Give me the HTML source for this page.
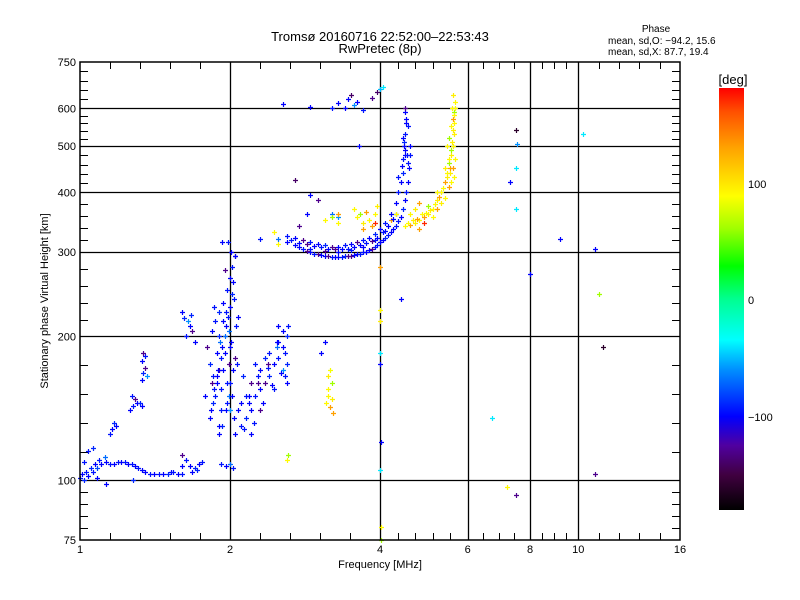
<!DOCTYPE html>
<html><head><meta charset="utf-8">
<style>
html,body{margin:0;padding:0;background:#fff;}
svg{display:block;font-family:"Liberation Sans",sans-serif;}
</style></head>
<body>
<svg id="chart" width="800" height="600" viewBox="0 0 800 600" xmlns="http://www.w3.org/2000/svg">
  <rect x="0" y="0" width="800" height="600" fill="#fff"/>
  <text x="380" y="41" font-size="13" text-anchor="middle">Tromsø 20160716 22:52:00–22:53:43</text>
  <text x="380" y="53" font-size="13" text-anchor="middle">RwPretec (8p)</text>
  <g font-size="10">
    <text x="656" y="32" text-anchor="middle">Phase</text>
    <text x="608" y="44">mean, sd,O: −94.2, 15.6</text>
    <text x="608" y="55">mean, sd,X:  87.7, 19.4</text>
  </g>
  <text x="380" y="568" font-size="11" text-anchor="middle">Frequency [MHz]</text>
  <text x="0" y="0" font-size="11" text-anchor="middle" transform="translate(48,301) rotate(-90)">Stationary phase Virtual Height [km]</text>
  <g id="grid"></g>
  <g id="ticks"></g>
  <g id="labels" font-size="11"></g>
  <g id="points"></g>
  <rect x="80" y="62" width="600" height="478" fill="none" stroke="#000" stroke-width="1.5"/>
  <defs>
    <linearGradient id="cbg" x1="0" y1="1" x2="0" y2="0">
      <stop offset="0" stop-color="#000000"/>
      <stop offset="0.083" stop-color="#400040"/>
      <stop offset="0.153" stop-color="#5000a0"/>
      <stop offset="0.222" stop-color="#0000ff"/>
      <stop offset="0.333" stop-color="#0090ff"/>
      <stop offset="0.403" stop-color="#00ffff"/>
      <stop offset="0.5" stop-color="#00ff90"/>
      <stop offset="0.578" stop-color="#00ff00"/>
      <stop offset="0.667" stop-color="#a0ff00"/>
      <stop offset="0.744" stop-color="#ffff00"/>
      <stop offset="0.861" stop-color="#ffa000"/>
      <stop offset="0.944" stop-color="#ff5000"/>
      <stop offset="1" stop-color="#ff0000"/>
    </linearGradient>
  </defs>
  <rect x="719" y="88" width="25" height="422" fill="url(#cbg)"/>
  <text x="733" y="84" font-size="13" text-anchor="middle">[deg]</text>
  <g font-size="11">
    <text x="748" y="188">100</text>
    <text x="748" y="304">0</text>
    <text x="748" y="421">−100</text>
  </g>
</svg>
<script>
// ----- axes -----
const xLabelVals = [1, 2, 4, 6, 8, 10, 16];
const xGridVals = [2, 4, 6, 8, 10];
const yLabelVals = [75, 100, 200, 300, 400, 500, 600, 750];
const yGridVals = [100, 200, 300, 400, 500, 600];

// ----- data (frequency MHz, height km, phase deg) -----
const freqs = [
1.0,1.01,1.02,1.03,1.04,1.05,1.06,1.07,1.08,1.09,1.10,1.12,1.13,1.15,1.17,1.19,1.21,1.23,1.25,1.27,1.29,1.31,1.33,1.35,1.38,1.41,1.44,1.47,1.50,1.52,1.54,1.57,1.60,
1.04,1.06,1.02,1.08,1.13,1.28,1.6,1.63,1.66,1.7,1.73,1.76,1.6,1.68,1.72,1.92,1.96,2.0,2.03,
1.15,1.16,1.17,1.18,
1.26,1.28,1.30,1.32,1.33,1.29,1.27,
1.33,1.34,1.35,1.33,1.35,1.36,1.34,
1.6,1.62,1.65,1.66,1.68,1.63,1.7,1.67,
1.82,1.85,1.87,1.88,1.9,1.92,1.93,1.95,1.96,1.98,2.0,2.02,2.03,2.02,2.01,2.05,1.98,1.9,1.93,1.96,1.99,2.0,2.03,2.05,1.85,1.88,1.9,1.94,1.97,2.0,2.04,1.92,1.8,1.84,1.87,1.9,1.94,1.97,2.0,1.95,1.86,1.78,1.82,2.06,2.08,
2.05,2.1,2.15,2.2,2.25,2.3,2.35,2.4,2.45,2.5,2.55,2.6,2.62,2.1,2.15,2.2,2.3,2.35,2.4,2.5,2.55,2.6,2.45,2.3,2.2,2.12,2.25,2.5,2.55,2.58,2.6,
2.6,2.62,
3.12,3.15,3.2,3.18,3.14,3.2,3.15,3.22,3.17,3.05,3.1,
2.7,2.8,2.9,3.0,3.1,3.2,3.3,3.4,3.5,3.6,3.7,3.8,3.9,4.0,4.1,4.2,4.3,4.4,4.45,4.5,4.52,4.55,4.57,4.6,4.6,
2.5,2.6,2.7,2.8,2.9,3.0,3.1,3.2,3.3,3.4,3.5,3.6,3.7,3.8,3.9,4.0,4.1,4.2,4.3,4.35,4.4,4.45,
2.6,2.9,3.1,3.3,3.5,3.7,3.9,4.1,4.3,
2.75,2.85,2.9,3.0,3.2,3.3,2.3,2.45,2.5,
4.42,4.45,4.48,4.46,4.5,4.35,4.5,4.48,4.52,4.55,
2.55,2.9,3.2,3.3,3.45,3.5,3.55,3.4,3.7,3.85,3.95,4.05,3.6,
2.7,3.63,4.0,
3.55,3.6,3.65,3.7,3.75,3.8,3.85,3.9,3.95,3.9,3.7,3.3,3.1,3.2,3.3,
4.5,4.6,4.7,4.8,4.9,5.0,5.1,5.2,5.3,5.4,5.45,5.5,5.55,5.6,5.62,5.63,5.64,5.65,5.6,5.55,5.5,5.4,5.3,5.2,5.1,4.9,4.8,4.6,4.7,4.8,5.0,5.2,5.45,5.5,5.55,5.6,5.58,5.52,5.6,5.65,5.62,5.4,4.2,4.3,
4.0,4.0,4.0,4.0,4.0,4.02,4.02,4.0,4.02,4.4,
7.5,7.55,7.5,7.3,7.5,10.2,10.8,9.2,8.0,11,11.2,6.7,7.2,7.5,10.8,
1.93,2.05,
// extra density
2.75,2.85,2.95,3.05,3.15,3.25,3.35,3.45,3.55,3.65,3.75,3.85,3.95,4.05,4.15,4.25,4.35,
2.65,2.75,2.85,2.95,3.05,3.15,3.25,3.35,3.45,3.55,3.65,3.75,3.85,3.95,4.05,4.15,4.25,
1.83,1.86,1.89,1.91,1.94,1.97,1.99,2.01,2.04,1.88,1.92,1.95,1.99,2.02,2.07,1.84,1.9,1.96,2.0,
2.08,2.13,2.18,2.23,2.28,2.33,2.38,2.43,2.48,2.53,2.58,2.18,2.28,2.38,2.48,
4.55,4.65,4.75,4.85,4.95,5.05,5.15,5.25,5.35,5.45,5.5,5.55,5.6,5.62,5.65,5.58,5.53,
4.47,4.49,4.51,4.53,4.44,4.56
];
const heights = [
101,103,100,104,102,106,104,108,106,110,108,112,109,108,108,109,109,109,108,108,107,106,105,104,103,103,103,103,103,104,104,103,103,
115,117,109,101,98,100,107,110,107,106,108,109,113,104,105,108,107,108,106,
125,128,132,130,
140,143,145,145,143,148,150,
162,168,172,178,182,165,185,
225,218,215,210,205,200,195,222,
135,145,150,160,170,180,190,200,210,220,230,245,260,280,300,295,315,125,130,140,150,160,170,180,165,185,200,170,160,140,135,155,190,205,215,225,235,250,265,275,230,150,175,210,220,
125,130,135,140,150,155,160,165,175,180,190,200,210,145,150,160,170,180,185,195,170,160,155,140,125,165,175,210,205,165,175,
110,113,
145,150,148,142,155,160,165,138,170,185,195,
310,305,300,297,295,293,293,294,295,297,300,303,308,315,322,330,340,355,370,385,400,420,450,480,500,
320,325,322,318,315,312,310,308,308,310,312,315,318,322,328,335,345,360,380,400,420,440,
315,305,302,300,303,308,318,333,360,
340,360,395,385,360,355,320,330,312,
455,470,490,510,480,430,590,600,570,550,
612,605,600,615,628,640,610,600,595,630,650,665,620,
425,500,660,
370,355,360,345,365,350,340,360,375,345,335,345,350,355,360,
340,342,345,350,355,360,370,385,400,420,440,460,480,500,530,560,590,620,640,420,410,390,380,370,355,345,335,360,370,380,375,400,500,520,550,570,600,440,450,470,430,450,350,360,
280,227,215,185,175,80,75,105,120,240,
540,505,450,420,370,530,305,320,270,245,190,135,97,93,103,
315,295,
307,302,298,296,294,293,293,294,296,298,301,305,311,318,326,335,348,
318,314,312,309,307,305,304,304,305,307,310,313,317,322,330,340,352,
140,155,170,195,215,145,175,195,240,165,140,185,205,150,175,160,130,225,190,
140,128,145,132,160,145,172,158,190,168,185,150,165,175,195,
345,350,352,360,362,368,378,392,408,430,470,490,540,580,600,510,450,
500,530,560,480,520,460
];
const phases = [
-95,-100,-90,-95,-100,-90,-95,-100,-80,-95,-100,-70,-100,-95,-100,-95,-100,-95,-100,-95,-100,-95,-100,-100,-95,-100,-95,-100,-90,-100,-95,-100,-95,
-95,-90,-95,-100,-100,-90,-100,-95,-100,-90,-100,-95,-130,-100,-90,-95,-100,-70,-95,
-95,-100,-90,-100,
-100,-95,-100,-90,-100,-130,-95,
-100,-90,-130,-100,-95,-60,-130,
-100,-90,-60,-100,-130,-95,-100,-90,
-100,-90,-95,-100,-130,-95,-100,-70,-100,-95,-100,-90,-100,-95,-100,-130,-95,-100,-90,-100,-70,-95,-100,-130,-95,-100,-90,-100,-95,-60,-100,-95,-130,-100,-95,-90,-100,-95,-100,-130,-95,-100,-90,-95,-100,
-100,-95,-90,-100,-95,-100,-130,-90,-100,-95,-100,-90,-95,-100,-95,-130,-100,-90,-95,-100,-60,-100,-95,-130,-100,-90,-95,-100,-100,-95,-90,
90,60,
90,90,95,130,90,60,95,130,85,-100,-100,
-100,-95,-100,-130,-100,-95,-100,-90,-130,-100,-95,-100,-95,-100,-90,-100,-95,-100,-90,-100,-95,-100,-100,-95,-100,
-70,-95,-100,-130,-95,-100,-90,-130,-100,-95,-100,-130,-95,-100,-90,-100,-95,-100,-100,-95,-100,-90,
-100,-95,-130,-100,-95,-100,-95,-100,-95,
-130,-100,-100,-130,-70,-60,-95,90,90,
-100,-95,-100,-90,-100,-95,-100,-130,-100,-95,
-100,-100,-95,-100,-100,-140,-60,-100,-95,-130,-140,-40,-100,
-140,-100,-50,
90,90,60,95,130,90,130,90,95,170,130,90,90,60,130,
90,130,95,90,130,95,90,95,90,130,90,60,95,90,95,90,60,90,95,90,130,90,95,130,90,170,130,90,95,130,60,90,90,60,90,130,90,95,130,90,90,95,130,90,
130,90,95,-40,-100,90,60,-40,-100,-100,
-160,-60,-40,-100,-40,-40,-100,-100,-100,60,-160,-40,90,-130,-130,
-100,-100,
-100,-130,-95,-100,-130,-100,-95,-130,-100,-95,-100,-130,-95,-100,-95,-100,-95,
-95,-100,-130,-100,-95,-100,-130,-100,-95,-100,-100,-95,-130,-100,-95,-100,-100,
-100,-95,-100,-70,-100,-95,-130,-100,-95,-100,-95,-100,-70,-100,-95,-130,-100,-95,-100,
-100,-95,-100,-95,-130,-100,-95,-100,-70,-100,-95,-100,-95,-130,-100,
90,95,130,90,90,95,90,130,90,95,90,60,95,90,90,95,130,
-100,-95,-100,-95,-100,-95
];

// ----- scales -----
const X0 = 80, X1 = 680, Y0 = 62, Y1 = 540;
function xs(f){ return X0 + (X1 - X0) * Math.log2(f) / 4; }
function ys(h){ return Y1 - (Y1 - Y0) * Math.log10(h / 75); }

const stops = [[-180,[0,0,0]],[-150,[64,0,64]],[-125,[80,0,160]],[-100,[0,0,255]],[-60,[0,144,255]],[-35,[0,255,255]],[0,[0,255,144]],[28,[0,255,0]],[60,[160,255,0]],[88,[255,255,0]],[130,[255,160,0]],[160,[255,80,0]],[180,[255,0,0]]];
function color(p){
  for (let i = 1; i < stops.length; i++){
    if (p <= stops[i][0]){
      const a = stops[i-1], b = stops[i], t = (p - a[0]) / (b[0] - a[0]);
      const c = a[1].map((v, k) => Math.round(v + (b[1][k] - v) * t));
      return 'rgb(' + c.join(',') + ')';
    }
  }
  return 'rgb(255,0,0)';
}

const NS = 'http://www.w3.org/2000/svg';
function mk(tag, attrs, parent){
  const el = document.createElementNS(NS, tag);
  for (const k in attrs) el.setAttribute(k, attrs[k]);
  parent.appendChild(el);
  return el;
}
const grid = document.getElementById('grid');
const ticks = document.getElementById('ticks');
const labels = document.getElementById('labels');
const pts = document.getElementById('points');

xGridVals.forEach(v => {
  const x = Math.round(xs(v)) + 0.5;
  const l = mk('line', {x1:x, x2:x, y1:Y0, y2:Y1, stroke:'#000', 'stroke-width':1.3}, grid);
  
  
});
yGridVals.forEach(v => {
  const y = Math.round(ys(v)) + 0.5;
  const l = mk('line', {x1:X0, x2:X1, y1:y, y2:y, stroke:'#000', 'stroke-width':1.3}, grid);
  
  
});
for (let i = 0; i < xLabelVals.length - 1; i++){
  const a = xs(xLabelVals[i]), b = xs(xLabelVals[i+1]);
  const n = (xLabelVals[i+1] / xLabelVals[i] >= 1.5) ? 5 : 4;
  for (let j = 1; j < n; j++){
    const x = Math.round(a + (b - a) * j / n) + 0.5;
    const t1 = mk('line', {x1:x, x2:x, y1:Y1, y2:Y1-7, stroke:'#000'}, ticks);
    
    
    const t2 = mk('line', {x1:x, x2:x, y1:Y0, y2:Y0+7, stroke:'#000'}, ticks);
    
    
  }
}
for (let i = 0; i < yLabelVals.length - 1; i++){
  const a = ys(yLabelVals[i]), b = ys(yLabelVals[i+1]);
  const n = 5;
  for (let j = 1; j < n; j++){
    const y = Math.round(a + (b - a) * j / n) + 0.5;
    const t1 = mk('line', {x1:X0, x2:X0+8, y1:y, y2:y, stroke:'#000'}, ticks);
    
    
    const t2 = mk('line', {x1:X1, x2:X1-8, y1:y, y2:y, stroke:'#000'}, ticks);
    
    
  }
}
xLabelVals.forEach(v => {
  const t = mk('text', {x:xs(v), y:553, 'text-anchor':'middle'}, labels);
  
  
  t.textContent = v;
});
yLabelVals.forEach(v => {
  const t = mk('text', {x:76, y:ys(v)+4, 'text-anchor':'end'}, labels);
  
  
  t.textContent = v;
});
for (let i = 0; i < freqs.length; i++){
  const x = Math.round(xs(freqs[i])), y = Math.round(ys(heights[i]));
  const c = color(phases[i]);
  const p = mk('path', {d:'M'+(x-2)+' '+(y+0.5)+'h5M'+(x+0.5)+' '+(y-2)+'v5', stroke:c, 'stroke-width':1.2, fill:'none'}, pts);
  
  
}
</script>
</body></html>
